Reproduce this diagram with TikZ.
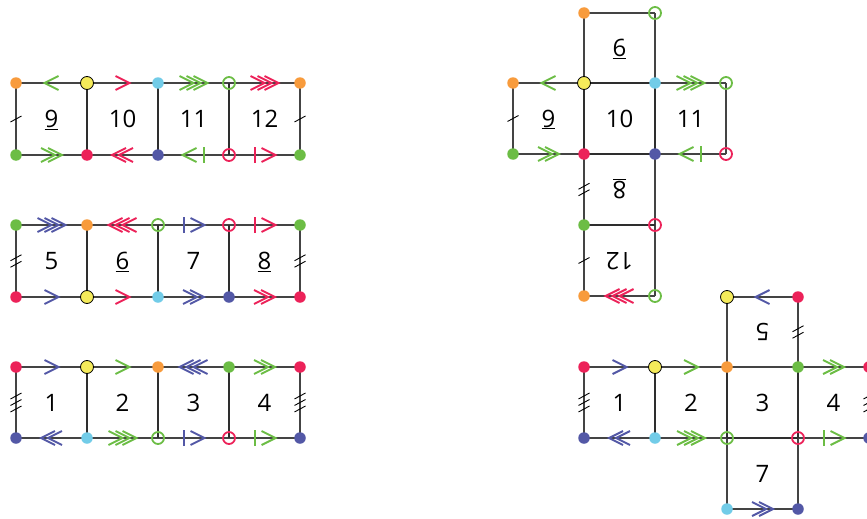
\documentclass[tikz,border=0pt]{standalone}
\usepackage{fontspec}
\setmainfont{Open Sans}
\usetikzlibrary{calc,decorations.markings}
\definecolor{cOr}{HTML}{F89B3C}
\definecolor{cYe}{HTML}{F5EB5A}
\definecolor{cCy}{HTML}{72CCE8}
\definecolor{cGr}{HTML}{6CBD45}
\definecolor{cRe}{HTML}{EC2259}
\definecolor{cBl}{HTML}{5358A6}
\definecolor{cLn}{HTML}{444444}
\definecolor{cLk}{HTML}{2E2E2E}
\newcommand\chevs[1]{%
  \pgfmathsetmacro\tp{7+3.5*(#1-1)}%
  \foreach \k in {1,...,#1}{%
    \pgfmathsetmacro\xa{\tp-7*(\k-1)}%
    \pgfmathsetmacro\xb{\xa-14}%
    \draw (\xb pt,7pt) -- (\xa pt,0pt) -- (\xb pt,-7pt);}}
\newcommand\tks[3]{%
  \begin{scope}[shift={($(#1)!0.5!(#2)$)}]
    \foreach \k in {1,...,#3}{%
      \pgfmathsetmacro\off{(\k-(#3+1)/2)*6.5}%
      \draw[tickst] (-5.5,{\off+3}) -- (5.5,{\off-3});}
  \end{scope}}
\tikzset{
  thinln/.style={draw=cLn, line width=1.2pt},
  thickln/.style={draw=cLk, line width=2.3pt},
  arr/.style 2 args={postaction={decorate,decoration={markings,mark=at position 0.5 with {\begin{scope}[draw=#2,line width=2pt]\chevs{#1}\end{scope}}}}},
  bararr/.style={postaction={decorate,decoration={markings,mark=at position 0.5 with {\begin{scope}[draw=#1,line width=2pt]\draw (-10pt,-8pt)--(-10pt,8pt);\draw (-3pt,7pt)--(11pt,0pt)--(-3pt,-7pt);\end{scope}}}}},
  fdot/.style={circle, fill=#1, inner sep=0pt, minimum size=11.5pt},
  ydot/.style={circle, fill=cYe, draw=black, line width=0.8pt, inner sep=0pt, minimum size=13pt},
  hdot/.style={circle, draw=#1, line width=1.8pt, inner sep=0pt, minimum size=12pt},
  lbl/.style={font=\fontsize{24}{24}\selectfont, text height=17pt, text depth=0pt, inner sep=0pt},
  tickst/.style={draw=black, line width=0.9pt},
}
\begin{document}
\begin{tikzpicture}[x=1pt,y=-1pt]
\useasboundingbox (0,0) rectangle (867,519);
% ---------- coordinates: left strips
\foreach \i/\x in {0/16,1/87,2/158,3/229,4/300}{
  \coordinate (a\i) at (\x,83);  \coordinate (b\i) at (\x,155);
  \coordinate (c\i) at (\x,225); \coordinate (d\i) at (\x,297);
  \coordinate (e\i) at (\x,367); \coordinate (f\i) at (\x,438);
}
% top-right cross
\coordinate (p1) at (584,13);  \coordinate (p2) at (655,13);
\foreach \i/\x in {0/513,1/584,2/655,3/726}{
  \coordinate (q\i) at (\x,83); \coordinate (r\i) at (\x,154);}
\coordinate (s1) at (584,225); \coordinate (s2) at (655,225);
\coordinate (t1) at (584,296); \coordinate (t2) at (655,296);
% bottom-right cross
\coordinate (u2) at (727,297); \coordinate (u3) at (798,297);
\foreach \i/\x in {0/584,1/655,2/727,3/798,4/869}{
  \coordinate (v\i) at (\x,367); \coordinate (w\i) at (\x,438);}
\coordinate (z2) at (727,509); \coordinate (z3) at (798,509);

% ---------- strip A (9 10 11 12)
\draw[thinln, arr={1}{cGr}] (a1) -- (a0);
\draw[thinln, arr={1}{cRe}] (a1) -- (a2);
\draw[thinln, arr={3}{cGr}] (a2) -- (a3);
\draw[thinln, arr={3}{cRe}] (a3) -- (a4);
\draw[thinln, arr={2}{cGr}] (b0) -- (b1);
\draw[thinln, arr={2}{cRe}] (b2) -- (b1);
\draw[thinln, bararr=cGr] (b3) -- (b2);
\draw[thinln, bararr=cRe] (b3) -- (b4);
\draw[thinln] (a0) -- (b0);
\draw[thinln] (a4) -- (b4);
\draw[thickln] (a1) -- (b1);
\draw[thickln] (a2) -- (b2);
\draw[thickln] (a3) -- (b3);
\tks{a0}{b0}{1}\tks{a4}{b4}{1}
% ---------- strip B (5 6 7 8)
\draw[thinln, arr={3}{cBl}] (c0) -- (c1);
\draw[thinln, arr={3}{cRe}] (c2) -- (c1);
\draw[thinln, bararr=cBl] (c2) -- (c3);
\draw[thinln, bararr=cRe] (c3) -- (c4);
\draw[thinln, arr={1}{cBl}] (d0) -- (d1);
\draw[thinln, arr={1}{cRe}] (d1) -- (d2);
\draw[thinln, arr={2}{cBl}] (d2) -- (d3);
\draw[thinln, arr={2}{cRe}] (d3) -- (d4);
\draw[thinln] (c0) -- (d0);
\draw[thinln] (c4) -- (d4);
\draw[thickln] (c1) -- (d1);
\draw[thickln] (c2) -- (d2);
\draw[thickln] (c3) -- (d3);
\tks{c0}{d0}{2}\tks{c4}{d4}{2}
% ---------- strip C (1 2 3 4)
\draw[thinln, arr={1}{cBl}] (e0) -- (e1);
\draw[thinln, arr={1}{cGr}] (e1) -- (e2);
\draw[thinln, arr={3}{cBl}] (e3) -- (e2);
\draw[thinln, arr={2}{cGr}] (e3) -- (e4);
\draw[thinln, arr={2}{cBl}] (f1) -- (f0);
\draw[thinln, arr={3}{cGr}] (f1) -- (f2);
\draw[thinln, bararr=cBl] (f2) -- (f3);
\draw[thinln, bararr=cGr] (f3) -- (f4);
\draw[thinln] (e0) -- (f0);
\draw[thinln] (e4) -- (f4);
\draw[thickln] (e1) -- (f1);
\draw[thickln] (e2) -- (f2);
\draw[thickln] (e3) -- (f3);
\tks{e0}{f0}{3}\tks{e4}{f4}{3}

% ---------- top-right cross
\draw[thinln] (p1) -- (p2);
\draw[thinln] (p1) -- (q1);
\draw[thinln] (p2) -- (q2);
\draw[thinln, arr={1}{cGr}] (q1) -- (q0);
\draw[thinln, arr={2}{cGr}] (r0) -- (r1);
\draw[thinln] (q0) -- (r0);
\draw[thinln, arr={3}{cGr}] (q2) -- (q3);
\draw[thinln, bararr=cGr] (r3) -- (r2);
\draw[thinln] (q3) -- (r3);
\draw[thinln] (r1) -- (s1);
\draw[thinln] (r2) -- (s2);
\draw[thinln] (s1) -- (t1);
\draw[thinln] (s2) -- (t2);
\draw[thinln, arr={3}{cRe}] (t2) -- (t1);
\draw[thickln] (q1) -- (q2);
\draw[thickln] (q1) -- (r1);
\draw[thickln] (q2) -- (r2);
\draw[thickln] (r1) -- (r2);
\draw[thickln] (s1) -- (s2);
\tks{q0}{r0}{1}\tks{r1}{s1}{2}\tks{s1}{t1}{1}

% ---------- bottom-right cross
\draw[thinln, arr={1}{cBl}] (u3) -- (u2);
\draw[thinln] (u2) -- (v2);
\draw[thinln] (u3) -- (v3);
\draw[thinln, arr={1}{cBl}] (v0) -- (v1);
\draw[thinln, arr={2}{cBl}] (w1) -- (w0);
\draw[thinln] (v0) -- (w0);
\draw[thinln, arr={1}{cGr}] (v1) -- (v2);
\draw[thinln, arr={3}{cGr}] (w1) -- (w2);
\draw[thinln] (v2) -- (v3);
\draw[thinln, arr={2}{cGr}] (v3) -- (v4);
\draw[thinln, bararr=cGr] (w3) -- (w4);
\draw[thinln] (v4) -- (w4);
\draw[thinln] (w2) -- (z2);
\draw[thinln] (w3) -- (z3);
\draw[thinln, arr={2}{cBl}] (z2) -- (z3);
\draw[thickln] (v1) -- (w1);
\draw[thickln] (v2) -- (w2);
\draw[thickln] (v3) -- (w3);
\draw[thickln] (w2) -- (w3);
\tks{u3}{v3}{2}\tks{v0}{w0}{3}\tks{v4}{w4}{3}

% ---------- dots
\node[fdot=cOr] (a0d) at (a0) {}; \node[ydot] (a1d) at (a1) {};
\node[fdot=cCy] (a2d) at (a2) {}; \node[hdot=cGr] (a3d) at (a3) {};
\node[fdot=cOr] (a4d) at (a4) {};
\node[fdot=cGr] (b0d) at (b0) {}; \node[fdot=cRe] (b1d) at (b1) {};
\node[fdot=cBl] (b2d) at (b2) {}; \node[hdot=cRe] (b3d) at (b3) {};
\node[fdot=cGr] (b4d) at (b4) {};

\node[fdot=cGr] (c0d) at (c0) {}; \node[fdot=cOr] (c1d) at (c1) {};
\node[hdot=cGr] (c2d) at (c2) {}; \node[hdot=cRe] (c3d) at (c3) {};
\node[fdot=cGr] (c4d) at (c4) {};
\node[fdot=cRe] (d0d) at (d0) {}; \node[ydot] (d1d) at (d1) {};
\node[fdot=cCy] (d2d) at (d2) {}; \node[fdot=cBl] (d3d) at (d3) {};
\node[fdot=cRe] (d4d) at (d4) {};

\node[fdot=cRe] (e0d) at (e0) {}; \node[ydot] (e1d) at (e1) {};
\node[fdot=cOr] (e2d) at (e2) {}; \node[fdot=cGr] (e3d) at (e3) {};
\node[fdot=cRe] (e4d) at (e4) {};
\node[fdot=cBl] (f0d) at (f0) {}; \node[fdot=cCy] (f1d) at (f1) {};
\node[hdot=cGr] (f2d) at (f2) {}; \node[hdot=cRe] (f3d) at (f3) {};
\node[fdot=cBl] (f4d) at (f4) {};

\node[fdot=cOr] (p1d) at (p1) {}; \node[hdot=cGr] (p2d) at (p2) {};
\node[fdot=cOr] (q0d) at (q0) {}; \node[ydot] (q1d) at (q1) {};
\node[fdot=cCy] (q2d) at (q2) {}; \node[hdot=cGr] (q3d) at (q3) {};
\node[fdot=cGr] (r0d) at (r0) {}; \node[fdot=cRe] (r1d) at (r1) {};
\node[fdot=cBl] (r2d) at (r2) {}; \node[hdot=cRe] (r3d) at (r3) {};
\node[fdot=cGr] (s1d) at (s1) {}; \node[hdot=cRe] (s2d) at (s2) {};
\node[fdot=cOr] (t1d) at (t1) {}; \node[hdot=cGr] (t2d) at (t2) {};

\node[ydot] (u2d) at (u2) {}; \node[fdot=cRe] (u3d) at (u3) {};
\node[fdot=cRe] (v0d) at (v0) {}; \node[ydot] (v1d) at (v1) {};
\node[fdot=cOr] (v2d) at (v2) {}; \node[fdot=cGr] (v3d) at (v3) {};
\node[fdot=cRe] (v4d) at (v4) {};
\node[fdot=cBl] (w0d) at (w0) {}; \node[fdot=cCy] (w1d) at (w1) {};
\node[hdot=cGr] (w2d) at (w2) {}; \node[hdot=cRe] (w3d) at (w3) {};
\node[fdot=cBl] (w4d) at (w4) {};
\node[fdot=cCy] (z2d) at (z2) {}; \node[fdot=cBl] (z3d) at (z3) {};

% ---------- labels
\node[lbl] (l9)  at ($(a0)!0.5!(b1)$) {\underline{9}};
\node[lbl] (l10) at ($(a1)!0.5!(b2)$) {10};
\node[lbl] (l11) at ($(a2)!0.5!(b3)$) {11};
\node[lbl] (l12) at ($(a3)!0.5!(b4)$) {12};
\node[lbl] (l5)  at ($(c0)!0.5!(d1)$) {5};
\node[lbl] (l6)  at ($(c1)!0.5!(d2)$) {\underline{6}};
\node[lbl] (l7)  at ($(c2)!0.5!(d3)$) {7};
\node[lbl] (l8)  at ($(c3)!0.5!(d4)$) {\underline{8}};
\node[lbl] (l1)  at ($(e0)!0.5!(f1)$) {1};
\node[lbl] (l2)  at ($(e1)!0.5!(f2)$) {2};
\node[lbl] (l3)  at ($(e2)!0.5!(f3)$) {3};
\node[lbl] (l4)  at ($(e3)!0.5!(f4)$) {4};

\node[lbl] (m6)  at ($(p1)!0.5!(q2)$) {\underline{6}};
\node[lbl] (m9)  at ($(q0)!0.5!(r1)$) {\underline{9}};
\node[lbl] (m10) at ($(q1)!0.5!(r2)$) {10};
\node[lbl] (m11) at ($(q2)!0.5!(r3)$) {11};
\node[lbl, rotate=180] (m8)  at ($(r1)!0.5!(s2)$) {\underline{8}};
\node[lbl, rotate=180] (m12) at ($(s1)!0.5!(t2)$) {12};

\node[lbl, rotate=180] (n5) at ($(u2)!0.5!(v3)$) {5};
\node[lbl] (n1) at ($(v0)!0.5!(w1)$) {1};
\node[lbl] (n2) at ($(v1)!0.5!(w2)$) {2};
\node[lbl] (n3) at ($(v2)!0.5!(w3)$) {3};
\node[lbl] (n4) at ($(v3)!0.5!(w4)$) {4};
\node[lbl] (n7) at ($(w2)!0.5!(z3)$) {7};
\end{tikzpicture}
\end{document}
